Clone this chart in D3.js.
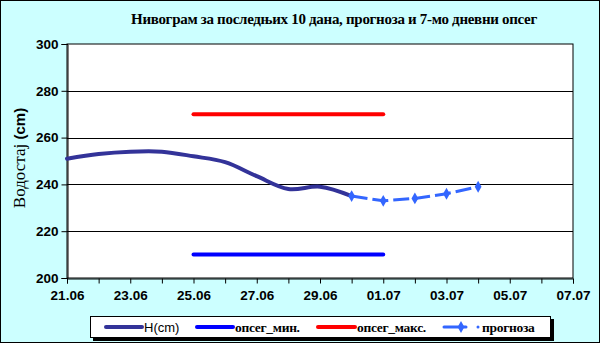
<!DOCTYPE html>
<html><head><meta charset="utf-8">
<script src="https://cdn.jsdelivr.net/npm/d3@7/dist/d3.min.js"></script>
<style>
html,body{margin:0;padding:0;background:#fff;}
svg{display:block;}
</style></head>
<body>
<script>
const hDates = ["2023-06-21","2023-06-22","2023-06-23","2023-06-24","2023-06-25","2023-06-26","2023-06-27","2023-06-28","2023-06-29","2023-06-30"];
const hValues = [251, 253, 254, 254, 252, 249.5, 243.5, 238, 239, 235];
const rangeDates = ["2023-06-25","2023-07-01"];
const rangeMin = [210, 210];
const rangeMax = [270, 270];
const fcDates = ["2023-06-30","2023-07-01","2023-07-02","2023-07-03","2023-07-04"];
const fcValues = [235, 233, 234, 236, 239];
const yTicks = [200, 220, 240, 260, 280, 300];
const xDomain = ["2023-06-21","2023-07-07"];
const legendLabels = ["H(cm)", "опсег_мин.", "опсег_макс.", "прогноза"];
const title = "Нивограм за последњих 10 дана, прогноза и 7-мо дневни опсег";
const yTitle = "Водостај";

const W = 600, H = 343;
const m = {l:67, r:573, t:44, b:278};
const parse = d3.utcParse("%Y-%m-%d");

const svg = d3.select("body").append("svg").attr("width", W).attr("height", H);
svg.append("rect").attr("x",0.5).attr("y",0.5).attr("width",W-1).attr("height",H-1)
  .attr("fill","#ccffff").attr("stroke","#000").attr("stroke-width",1);

const x = d3.scaleUtc().domain(xDomain.map(parse)).range([m.l, m.r]);
const y = d3.scaleLinear().domain([200,300]).range([m.b, m.t]);

svg.append("rect").attr("x",m.l).attr("y",m.t).attr("width",m.r-m.l).attr("height",m.b-m.t)
  .attr("fill","#fff").attr("stroke","#000").attr("stroke-width",1);

// gridlines
svg.append("g").selectAll("line").data(yTicks.slice(1,-1)).join("line")
  .attr("x1",m.l).attr("x2",m.r).attr("y1",d=>Math.round(y(d))+0.5).attr("y2",d=>Math.round(y(d))+0.5)
  .attr("stroke","#000").attr("stroke-width",1);

// y axis
const yAxis = svg.append("g").attr("transform",`translate(${m.l+0.5},0)`)
  .call(d3.axisLeft(y).tickValues(yTicks).tickSize(6).tickPadding(3));
yAxis.select(".domain").attr("stroke","#000");
yAxis.selectAll("text").attr("font-family","Liberation Sans, Arial, sans-serif").attr("font-weight","bold").attr("font-size","13.5px").attr("fill","#000");

// x axis
const days = d3.utcDay.range(parse(xDomain[0]), d3.utcDay.offset(parse(xDomain[1]),1));
const xAxis = svg.append("g").attr("transform",`translate(0,${m.b+0.5})`)
  .call(d3.axisBottom(x).tickValues(days).tickSize(5).tickPadding(4)
    .tickFormat((d,i)=> i%2===0 ? d3.utcFormat("%d.%m")(d) : ""));
xAxis.select(".domain").attr("stroke","#000");
xAxis.selectAll("text").attr("font-family","Liberation Sans, Arial, sans-serif").attr("font-weight","bold").attr("font-size","13.5px").attr("fill","#000").attr("dy","0.95em");

// range lines
const rl = d3.line().x(d=>x(d[0])).y(d=>y(d[1]));
svg.append("path").attr("d", rl(rangeDates.map((d,i)=>[parse(d), rangeMax[i]])))
  .attr("fill","none").attr("stroke","#ff0000").attr("stroke-width",4).attr("stroke-linecap","round");
svg.append("path").attr("d", rl(rangeDates.map((d,i)=>[parse(d), rangeMin[i]])))
  .attr("fill","none").attr("stroke","#0000ff").attr("stroke-width",4).attr("stroke-linecap","round");

// H line
const hl = d3.line().x(d=>x(d[0])).y(d=>y(d[1])).curve(d3.curveCatmullRom.alpha(0.5));
svg.append("path").attr("d", hl(hDates.map((d,i)=>[parse(d), hValues[i]])))
  .attr("fill","none").attr("stroke","#333399").attr("stroke-width",4).attr("stroke-linecap","round");

// forecast
const fl = d3.line().x(d=>x(d[0])).y(d=>y(d[1]));
const fcData = fcDates.map((d,i)=>[parse(d), fcValues[i]]);
svg.append("path").attr("d", fl(fcData))
  .attr("fill","none").attr("stroke","#3366ff").attr("stroke-width",3).attr("stroke-dasharray","16,5");
const diamond = d3.symbol().type(d3.symbolDiamond).size(40);
svg.append("g").selectAll("path").data(fcData).join("path")
  .attr("transform",d=>`translate(${x(d[0])},${y(d[1])})`).attr("d",diamond()).attr("fill","#3366ff");

// title
svg.append("text").attr("x",334).attr("y",24).attr("text-anchor","middle")
  .attr("font-family","Liberation Serif, Times New Roman, serif").attr("font-weight","bold").attr("font-size","15px")
  .attr("letter-spacing","-0.3px").text(title);

// y title
const yt = svg.append("text").attr("transform","translate(25,158) rotate(-90)").attr("text-anchor","middle");
yt.append("tspan").attr("font-family","Liberation Serif, Times New Roman, serif").attr("font-size","17px").text(yTitle+" ");
yt.append("tspan").attr("font-family","Liberation Sans, Arial, sans-serif").attr("font-weight","bold").attr("font-size","15px").text("(cm)");

// legend
svg.append("rect").attr("x",93).attr("y",319).attr("width",461).attr("height",22).attr("fill","#000");
svg.append("rect").attr("x",90.5).attr("y",316.5).attr("width",460).attr("height",21).attr("fill","#fff").attr("stroke","#000").attr("stroke-width",1);
const ly = 327;
const items = [
  {x1:106,x2:142,color:"#333399",tx:144,sans:true},
  {x1:197,x2:233,color:"#0000ff",tx:235,sans:false},
  {x1:318,x2:355,color:"#ff0000",tx:357,sans:false},
  {x1:444,x2:466,color:"#3366ff",tx:482,sans:false,fc:true}
];
items.forEach((it,i)=>{
  svg.append("line").attr("x1",it.x1).attr("x2",it.x2).attr("y1",ly).attr("y2",ly)
    .attr("stroke",it.color).attr("stroke-width",it.fc?3:4).attr("stroke-linecap","round");
  if(it.fc){
    svg.append("path").attr("transform",`translate(461,${ly})`).attr("d",diamond()).attr("fill",it.color);
    svg.append("circle").attr("cx",478).attr("cy",ly).attr("r",1.5).attr("fill",it.color);
  }
  svg.append("text").attr("x",it.tx).attr("y",ly+4.5)
    .attr("font-family", it.sans ? "Liberation Sans, Arial, sans-serif" : "Liberation Serif, Times New Roman, serif")
    .attr("font-weight", it.sans ? "normal" : "bold")
    .attr("font-size", it.sans ? "13px" : "13.5px")
    .attr("letter-spacing", it.sans ? "0" : "-0.3px")
    .text(legendLabels[i]);
});
</script>
</body></html>
